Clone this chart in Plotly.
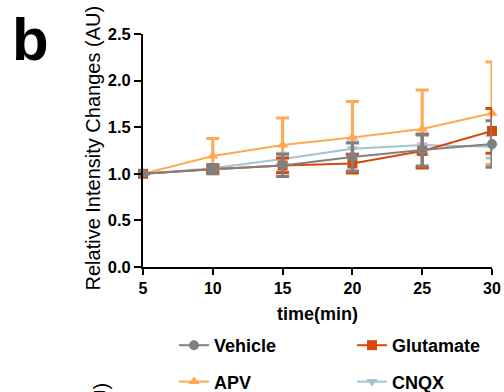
import plotly.graph_objects as go

time_min = [5, 10, 15, 20, 25, 30]

vehicle = [1.00, 1.05, 1.09, 1.18, 1.255, 1.32]
vehicle_err = [0.0, 0.05, 0.12, 0.15, 0.17, 0.25]

glutamate = [1.00, 1.05, 1.09, 1.11, 1.245, 1.46]
glutamate_err = [0.0, 0.03, 0.08, 0.10, 0.18, 0.24]

apv = [1.00, 1.19, 1.31, 1.39, 1.48, 1.65]
apv_err = [0.0, 0.19, 0.29, 0.385, 0.42, 0.55]

cnqx = [1.00, 1.06, 1.16, 1.27, 1.31, 1.29]
cnqx_err = [0.0, 0.03, 0.06, 0.07, 0.10, 0.12]

y_ticks = [0.0, 0.5, 1.0, 1.5, 2.0, 2.5]
x_ticks = [5, 10, 15, 20, 25, 30]

series = [
    # name, values, errors, color, symbol, legend, rank
    ("CNQX", cnqx, cnqx_err, "#A3C3D3", "triangle-down", "legend2", 2),
    ("APV", apv, apv_err, "#FFA852", "triangle-up", "legend", 2),
    ("Glutamate", glutamate, glutamate_err, "#D9480B", "square", "legend2", 1),
    ("Vehicle", vehicle, vehicle_err, "#808080", "circle", "legend", 1),
]

fig = go.Figure()
for name, vals, errs, color, sym, leg, rank in series:
    fig.add_trace(go.Scatter(
        x=time_min, y=vals, name=name, mode="lines+markers",
        line=dict(color=color, width=2),
        marker=dict(color=color, symbol=sym, size=10),
        error_y=dict(type="data", array=errs, visible=True, color=color,
                     thickness=3, width=6.5),
        cliponaxis=False, legend=leg, legendrank=rank, legendgroup=name,
    ))

L, R, T, B = 143, 12, 34, 125
W, H = 504, 392
pw, ph = W - L - R, H - T - B

fig.update_layout(
    width=W, height=H,
    margin=dict(l=L, r=R, t=T, b=B, autoexpand=False),
    plot_bgcolor="white", paper_bgcolor="white",
    font=dict(family="Arial, Liberation Sans, sans-serif", color="black"),
    xaxis=dict(
        range=[5, 30], tickvals=x_ticks, ticks="outside", ticklen=6, tickwidth=2,
        tickcolor="black", showline=True, linecolor="black", linewidth=2,
        showgrid=False, zeroline=False, automargin=False,
        tickfont=dict(family="Arial, Liberation Sans, sans-serif", size=16, color="black", weight="bold"),
        title=dict(text="<b>time(min)</b>", font=dict(size=18, color="black"), standoff=11),
    ),
    yaxis=dict(
        range=[0, 2.5], tickvals=y_ticks, tickformat=".1f", ticks="outside", ticklen=7,
        tickwidth=2, tickcolor="black", showline=True, linecolor="black", linewidth=2,
        showgrid=False, zeroline=False, automargin=False,
        tickfont=dict(family="Arial, Liberation Sans, sans-serif", size=16.5, color="black", weight="bold"),
    ),
    legend=dict(
        xref="container", yref="container", x=174/W, y=1 - 327/H,
        xanchor="left", yanchor="top", traceorder="grouped", tracegroupgap=10,
        font=dict(size=18, color="black", weight="bold"), bgcolor="rgba(0,0,0,0)",
    ),
    legend2=dict(
        xref="container", yref="container", x=352/W, y=1 - 327/H,
        xanchor="left", yanchor="top", traceorder="grouped", tracegroupgap=10,
        font=dict(size=18, color="black", weight="bold"), bgcolor="rgba(0,0,0,0)",
    ),
    annotations=[
        # panel letter
        dict(text="<b>b</b>", xref="paper", yref="paper", x=(10 - L) / pw, y=1 + (T - 4) / ph,
             xanchor="left", yanchor="top", showarrow=False,
             font=dict(size=60, color="black")),
        # y-axis title
        dict(text="Relative Intensity Changes (AU)", textangle=-90, xref="paper", yref="paper",
             x=(92 - L) / pw, y=(H - B - 148.5) / ph, xanchor="center", yanchor="middle",
             showarrow=False, font=dict(size=20, color="black")),
        # next panel's y-axis title, cut off at the bottom edge
        dict(text="Relative Intensity Changes (AU)", textangle=-90, xref="paper", yref="paper",
             x=(100 - L) / pw, y=(H - B - 381) / ph, xanchor="center", yanchor="top",
             showarrow=False, font=dict(size=20, color="black")),
    ],
)

fig.write_html("out.html", config={"displayModeBar": False},
               post_script="document.body.style.margin='0';")
